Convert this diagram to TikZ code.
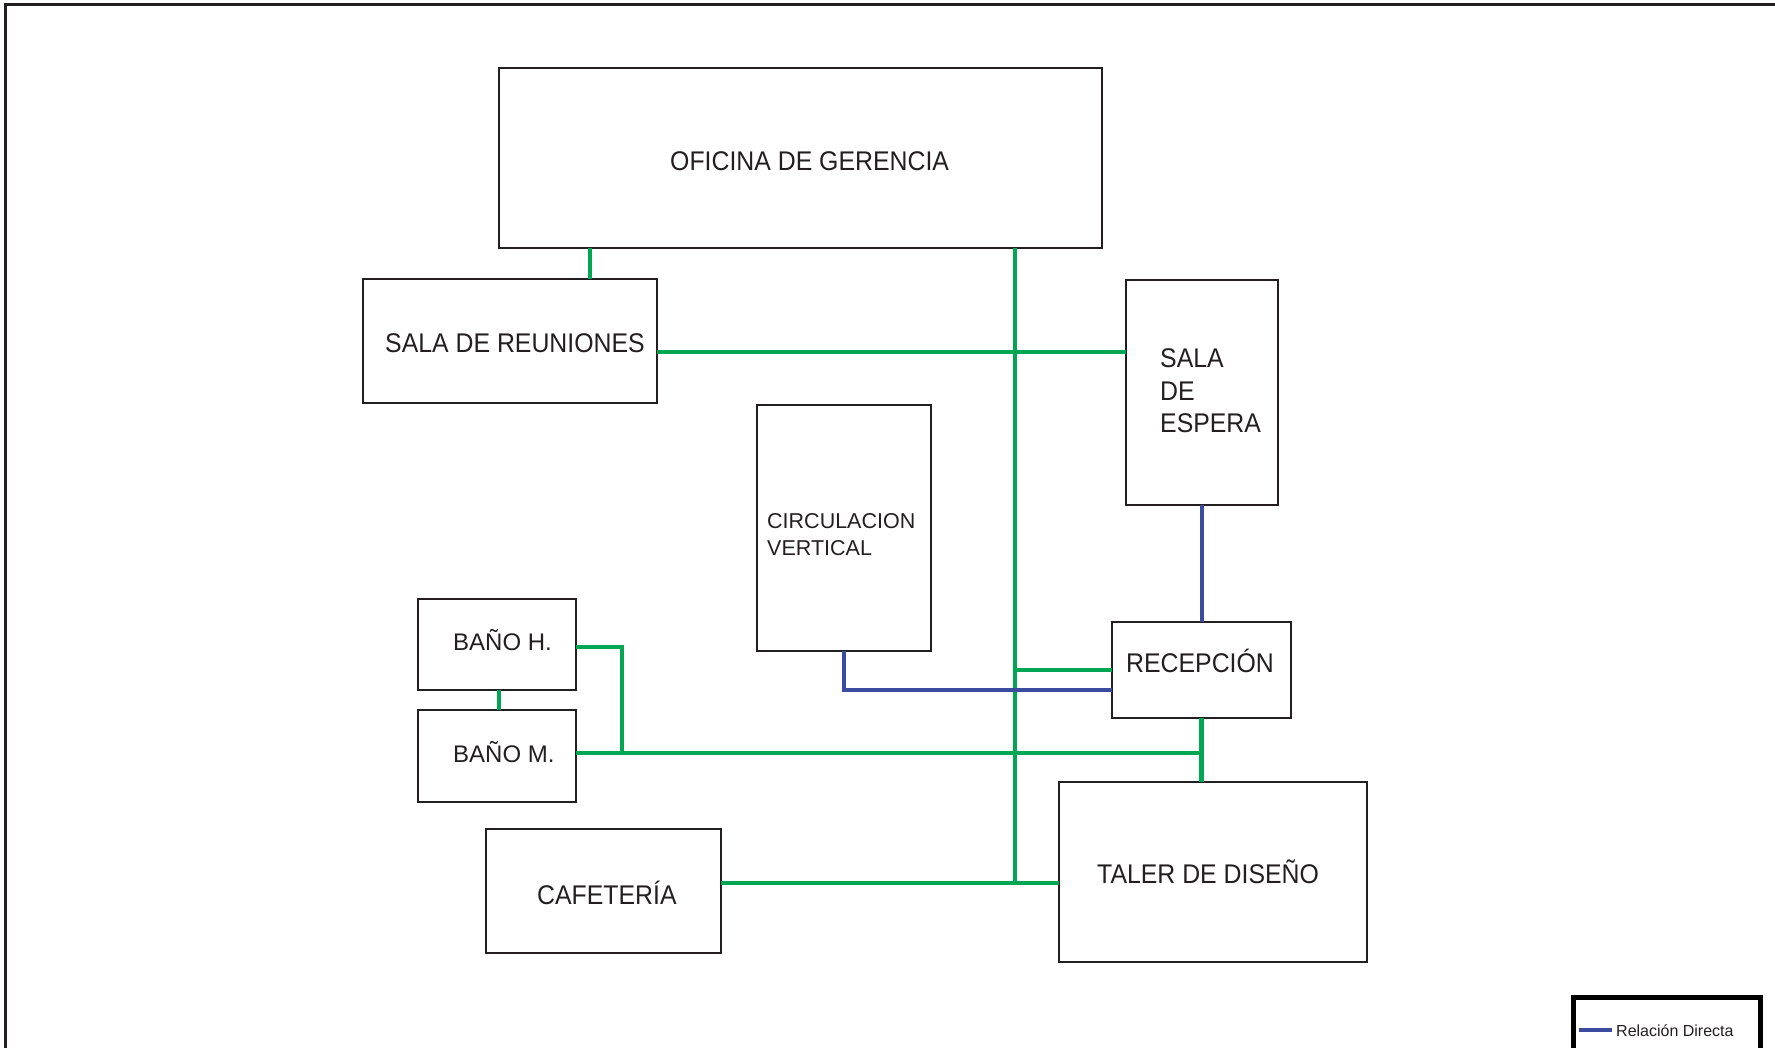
\documentclass[tikz,border=0pt]{standalone}
\usepackage{fontspec}
\setmainfont{Liberation Sans}
\newfontfamily\roomfont[FakeStretch=0.92]{Liberation Sans}
\definecolor{relgreen}{RGB}{0,166,81}
\definecolor{relblue}{RGB}{59,75,160}
\definecolor{ink}{RGB}{35,31,32}
\tikzset{
  room/.style={draw=ink, line width=2.6pt, rectangle, inner sep=0pt, outer sep=0pt},
  lbl/.style={anchor=base west, inner sep=0pt, text=ink,
              font=\roomfont\fontsize{27}{32}\selectfont},
  smalllbl/.style={anchor=base west, inner sep=0pt, text=ink,
              font=\fontsize{24}{28}\selectfont},
  gline/.style={draw=relgreen, line width=4.5pt},
  bline/.style={draw=relblue, line width=4.5pt},
}
\begin{document}
\begin{tikzpicture}[x=1pt, y=-1pt]
\useasboundingbox (0,0) rectangle (1775,1048);
\clip (0,0) rectangle (1775,1048);

% sheet frame (runs off the right and bottom edges)
\draw[draw=ink, line width=3pt] (5,5) rectangle (1820,1120);

% rooms
\node[room, minimum width=603pt, minimum height=180pt] (ofi)    at (800.5,158) {};
\node[room, minimum width=294pt, minimum height=124pt] (reu)    at (510,341) {};
\node[room, minimum width=152pt, minimum height=225pt] (esp)    at (1202,392.5) {};
\node[room, minimum width=174pt, minimum height=246pt] (circ)   at (844,528) {};
\node[room, minimum width=179pt, minimum height=96pt]  (rec)    at (1201.5,670) {};
\node[room, minimum width=158pt, minimum height=91pt]  (banoH)  at (497,644.5) {};
\node[room, minimum width=158pt, minimum height=92pt]  (banoM)  at (497,756) {};
\node[room, minimum width=235pt, minimum height=124pt] (caf)    at (603.5,891) {};
\node[room, minimum width=308pt, minimum height=180pt] (tal)    at (1213,872) {};

% room names
\node[lbl] (tofi) at (670,171) {OFICINA DE GERENCIA};
\node[lbl] (treu) at (385,353) {SALA DE REUNIONES};
\node[lbl] (tesp1) at (1160,368) {SALA};
\node[lbl] (tesp2) at (1160,400) {DE};
\node[lbl] (tesp3) at (1160,432) {ESPERA};
\node[anchor=base west, inner sep=0pt, text=ink, font=\fontsize{21.5}{26}\selectfont]
  (tcirc1) at (767,528) {CIRCULACION};
\node[anchor=base west, inner sep=0pt, text=ink, font=\fontsize{21.5}{26}\selectfont]
  (tcirc2) at (767,555) {VERTICAL};
\node[lbl] (trec) at (1126,672) {RECEPCIÓN};
\node[smalllbl] (tbh) at (453,650) {BAÑO H.};
\node[smalllbl] (tbm) at (453,762) {BAÑO M.};
\node[lbl] (tcaf) at (537,904) {CAFETERÍA};
\node[lbl] (ttal) at (1097,883) {TALER DE DISEÑO};

% guide coordinates for the connector runs
\coordinate (trunkx) at (1015,0);
\coordinate (meetx)  at (590,0);
\coordinate (bathx)  at (499,0);
\coordinate (reuy)   at (0,352);
\coordinate (hook)   at (622,647);
\coordinate (bathy)  at (0,753);
\coordinate (cafy)   at (0,883);
\coordinate (circy)  at (0,690);

% green relations
\draw[gline] (ofi.south -| meetx) -- (reu.north -| meetx);
\draw[gline] (ofi.south -| trunkx) -- (trunkx |- cafy);
\draw[gline] (reu.east |- reuy) -- (esp.west |- reuy);
\draw[gline] (trunkx |- rec.west) -- (rec.west);
\draw[gline] (banoH.south -| bathx) -- (banoM.north -| bathx);
\draw[gline] (banoH.east |- hook) -- (hook) -- (hook |- bathy);
\draw[gline] (banoM.east |- bathy) -- (rec.south |- bathy);
\draw[gline] (rec.south) -- (rec.south |- tal.north);
\draw[gline] (caf.east |- cafy) -- (tal.west |- cafy);

% blue relations
\draw[bline] (esp.south) -- (esp.south |- rec.north);
\draw[bline] (circ.south) -- (circ.south |- circy) -- (rec.west |- circy);

% legend
\draw[draw=black, line width=5pt] (1573,997) rectangle (1760,1120);
\coordinate (leg1) at (1579,1030);
\coordinate (leg2) at (1612,1030);
\draw[bline, line width=4pt] (leg1) -- (leg2);
\node[anchor=base west, inner sep=0pt, text=ink, font=\fontsize{16}{19}\selectfont]
  (legtxt) at (1616,1036) {Relación Directa};
\end{tikzpicture}
\end{document}
